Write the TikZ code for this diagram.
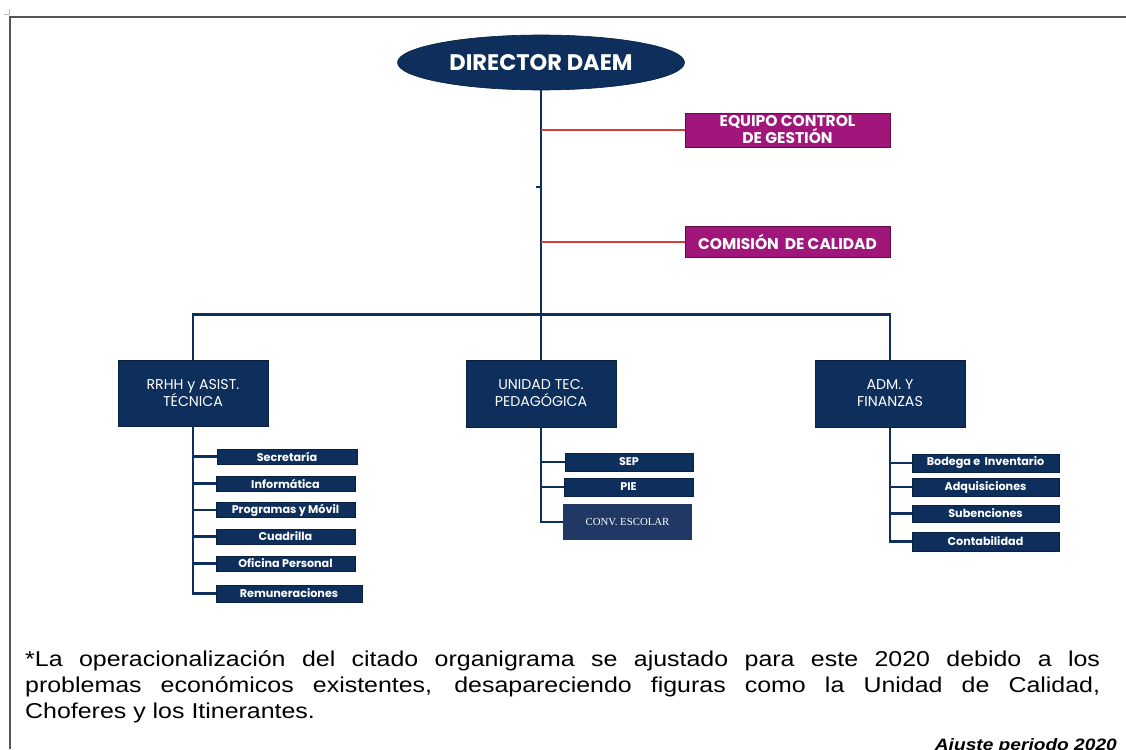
\documentclass[tikz,border=0pt]{standalone}
\usepackage{fontspec}
\setmainfont{Liberation Sans}
\newfontfamily\gothic{Poppins}
\newfontfamily\notefont[FakeStretch=1.16]{Liberation Sans}
\newfontfamily\timesfont{Liberation Serif}
\usetikzlibrary{shapes.geometric}

\begin{document}
\begin{tikzpicture}[x=1pt,y=-1pt,
  unit/.style={fill=navy,draw=navy!70!black,line width=0.6pt,text=white,inner sep=0pt,align=center,
    minimum width=150pt,minimum height=66pt,font=\gothic\fontsize{14.2}{17}\selectfont},
  subunit/.style={fill=navy,draw=navy!70!black,line width=0.6pt,text=white,inner sep=0pt,
    minimum width=140pt,minimum height=15pt,font=\gothic\bfseries\fontsize{11.2}{12}\selectfont},
  staff/.style={fill=magentabox,draw=magentabox!60!black,line width=0.8pt,text=white,inner sep=0pt,align=center,
    minimum width=205pt,font=\gothic\bfseries\fontsize{15.5}{15}\selectfont},
  link/.style={navy,line width=2.8pt},
  redlink/.style={redline,line width=2pt}]
\definecolor{navy}{RGB}{14,46,92}
\definecolor{magentabox}{RGB}{160,22,122}
\definecolor{redline}{RGB}{214,62,62}
\definecolor{convblue}{RGB}{33,56,100}
\definecolor{framegray}{RGB}{85,85,85}
\useasboundingbox (0,0) rectangle (1126,749);
% page frame
\draw [framegray,line width=1.5pt] (10,749) -- (10,17) -- (1126,17);
\draw [gray!55,line width=0.6pt] (4,14) -- (9,14) -- (9,9);
% top
\node [ellipse,fill=navy,draw=navy!70!black,line width=0.6pt,minimum width=287pt,minimum height=55pt,inner sep=0pt,
  text=white,font=\gothic\bfseries\fontsize{22.5}{24}\selectfont] (dir) at (541,62.5) {DIRECTOR DAEM};
\node [staff,minimum height=34pt] (ecg) at (787.5,130) {EQUIPO CONTROL\\[-1pt]DE GESTI\'ON};
\node [staff,minimum height=31pt] (cal) at (787.5,241.5) {COMISI\'ON\, DE CALIDAD};
% units
\node [unit] (rrhh) at (193,393) {RRHH y ASIST.\\T\'ECNICA};
\node [unit,minimum height=67pt] (utp) at (541,393.5) {UNIDAD TEC.\\PEDAG\'OGICA};
\node [unit,minimum height=67pt] (adm) at (890,393.5) {ADM. Y\\FINANZAS};
% rrhh
\node [subunit] (sec) at (287,456.5) {Secretar\'ia};
\node [subunit,minimum width=139pt] (inf) at (285.5,483.5) {Inform\'atica};
\node [subunit,minimum width=139pt] (prog) at (285.5,510) {Programas y M\'ovil};
\node [subunit,minimum width=139pt] (cua) at (285.5,536.5) {Cuadrilla};
\node [subunit,minimum width=139pt] (ofi) at (285.5,563.5) {Oficina Personal};
\node [subunit,minimum width=146pt,minimum height=17pt] (rem) at (289,593.5) {Remuneraciones};
% utp
\node [subunit,minimum width=128pt,minimum height=18pt] (sep) at (629,462) {SEP};
\node [subunit,minimum width=129pt,minimum height=18pt] (pie) at (628.5,487) {PIE};
\node [fill=convblue,text=white,inner sep=0pt,minimum width=129pt,minimum height=36pt,
  font=\timesfont\fontsize{10.8}{12}\selectfont] (conv) at (627.5,522) {CONV. ESCOLAR};
% adm
\node [subunit,minimum width=147pt,minimum height=18pt] (bod) at (985.5,463) {Bodega e\, Inventario};
\node [subunit,minimum width=147pt,minimum height=18pt] (adq) at (985.5,487) {Adquisiciones};
\node [subunit,minimum width=147pt,minimum height=17pt] (sub) at (985.5,513.5) {Subenciones};
\node [subunit,minimum width=147pt,minimum height=19pt] (cont) at (985.5,541.5) {Contabilidad};
% connectors
\coordinate (tick) at (536,187);
\draw [link] (dir.south) -- (utp.north);
\draw [link,line width=1.5pt] (tick) -- (tick -| dir.south);
\draw [redlink] (dir.south |- ecg) -- (ecg.west);
\draw [redlink] (dir.south |- cal) -- (cal.west);
\draw [link] (rrhh.north) -- ++(0,-45) -| (adm.north);
\draw [link] (rrhh.south) |- (rem.west);
\foreach \n in {sec,inf,prog,cua,ofi}
  \draw [link] (rrhh.south |- \n.west) -- (\n.west);
\draw [link] (utp.south) |- (conv.west);
\foreach \n in {sep,pie}
  \draw [link] (utp.south |- \n.west) -- (\n.west);
\draw [link] (adm.south) |- (cont.west);
\foreach \n in {bod,adq,sub}
  \draw [link] (adm.south |- \n.west) -- (\n.west);
% note
\node [anchor=north west,inner sep=0pt,text width=1075pt,align=justify,
  font=\notefont\fontsize{21.5}{26}\selectfont] (note) at (25,650)
  {*La operacionalizaci\'on del citado organigrama se ajustado para este 2020 debido a los\linebreak
   problemas econ\'omicos existentes, desapareciendo figuras como la Unidad de Calidad,\linebreak
   Choferes y los Itinerantes.};
\node [anchor=base east,inner sep=0pt,font=\notefont\bfseries\itshape\fontsize{16.5}{20}\selectfont] (ajuste)
  at (1117,750) {Ajuste periodo 2020};
\end{tikzpicture}
\end{document}
